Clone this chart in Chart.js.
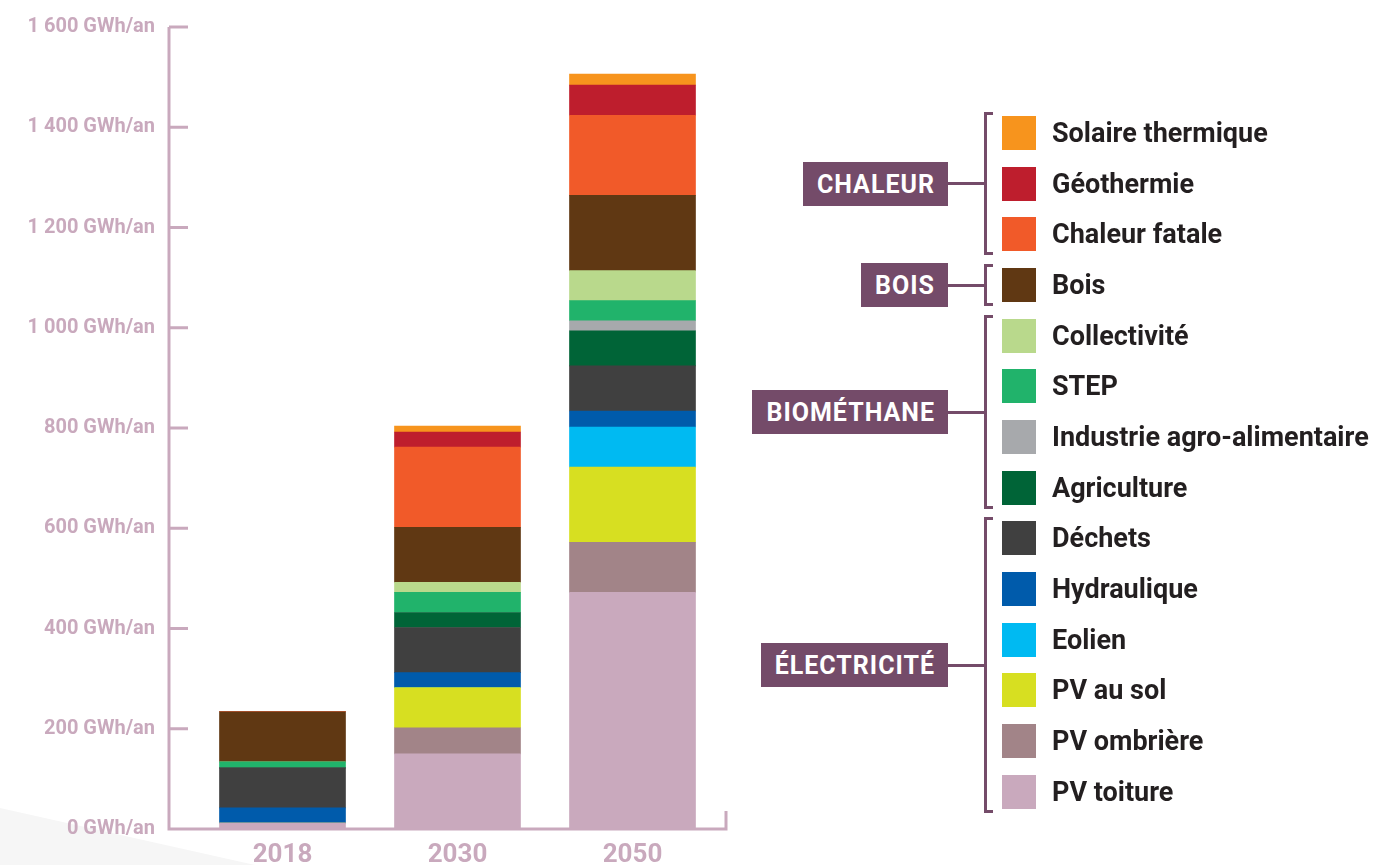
<!DOCTYPE html>
<html lang="fr">
<head>
<meta charset="utf-8">
<script src="https://cdn.jsdelivr.net/npm/chart.js@4.4.1/dist/chart.umd.min.js"></script>
<style>
  html,body{margin:0;padding:0;background:#fff;}
  #wrap{position:relative;width:1379px;height:865px;overflow:hidden;font-family:Roboto,"DejaVu Sans",sans-serif;}
  #shade{position:absolute;left:0;top:0;width:1379px;height:865px;background:#f6f6f6;clip-path:polygon(0 808px,255px 865px,0 865px);}
  #chart{position:absolute;left:0;top:0;}
  .grp{position:absolute;right:431px;height:44px;line-height:45px;padding:0 13px 0 14px;background:#744b69;color:#fff;font-weight:700;font-size:25px;letter-spacing:1px;}
  .link{position:absolute;left:948px;width:38px;height:3px;background:#744b69;}
  .brk{position:absolute;left:984px;width:9px;box-sizing:border-box;border:3px solid #744b69;border-right:none;}
  .sw{position:absolute;left:1002px;width:34px;height:34px;}
  .lab{position:absolute;left:1052px;height:34px;line-height:35px;font-weight:700;font-size:27px;color:#231f20;white-space:nowrap;}
</style>
</head>
<body>
<div id="wrap">
  <div id="shade"></div>
  <canvas id="chart" width="1379" height="865"></canvas>
  <div id="legend"></div>
</div>
<script>
// --- données (GWh/an) ---
const years = ["2018", "2030", "2050"];

const solaireThermique = [0, 12, 22];
const geothermie       = [0, 30, 60];
const chaleurFatale    = [0, 160, 160];
const bois             = [100, 110, 150];
const collectivite     = [0, 20, 60];
const step             = [12, 40, 40];
const industrieAgro    = [0, 0, 20];
const agriculture      = [0, 30, 70];
const dechets          = [80, 90, 90];
const hydraulique      = [30, 30, 32];
const eolien           = [0, 0, 80];
const pvSol            = [0, 80, 150];
const pvOmbriere       = [0, 52, 100];
const pvToiture        = [12, 150, 472];

const yTicks = [0, 200, 400, 600, 800, 1000, 1200, 1400, 1600];

// ordre de la légende (haut -> bas)
const seriesNames = [
  "Solaire thermique", "Géothermie", "Chaleur fatale", "Bois",
  "Collectivité", "STEP", "Industrie agro-alimentaire", "Agriculture",
  "Déchets", "Hydraulique", "Eolien", "PV au sol", "PV ombrière", "PV toiture"
];
const seriesValues = [
  solaireThermique, geothermie, chaleurFatale, bois,
  collectivite, step, industrieAgro, agriculture,
  dechets, hydraulique, eolien, pvSol, pvOmbriere, pvToiture
];
const groups = [
  { name: "CHALEUR", from: 0, to: 2 },
  { name: "BOIS", from: 3, to: 3 },
  { name: "BIOMÉTHANE", from: 4, to: 7 },
  { name: "ÉLECTRICITÉ", from: 8, to: 13 }
];

const COLORS = [
  "#f7941d", "#be1e2d", "#f15a29", "#603813",
  "#b9d98c", "#21b36b", "#a7a9ac", "#006437",
  "#404040", "#005bab", "#00baf2", "#d7df21", "#a28488", "#c9a9bd"
];
const PINK = "#c9a9bd";
const FONT = "Roboto, 'DejaVu Sans', sans-serif";

const el = (id) => document.getElementById(id);

function fmt(v){
  return String(v).replace(/\B(?=(\d{3})+(?!\d))/g, " ");
}

// les lignes d'axe façon "crochet"
const axisLines = {
  id: "axisLines",
  afterDatasetsDraw(chart){
    const { ctx, chartArea, scales } = chart;
    const y = scales.y;
    const ax = chartArea.left - 26;
    const base = y.getPixelForValue(0);
    ctx.save();
    ctx.strokeStyle = PINK;
    ctx.lineWidth = 3;
    ctx.beginPath();
    ctx.moveTo(ax, y.getPixelForValue(yTicks[yTicks.length - 1]));
    ctx.lineTo(ax, base);
    ctx.lineTo(chartArea.right + 6, base);
    ctx.lineTo(chartArea.right + 6, base - 18);
    for(const t of yTicks){
      if(t === 0) continue;
      const py = y.getPixelForValue(t);
      ctx.moveTo(ax, py);
      ctx.lineTo(ax + 19, py);
    }
    ctx.stroke();
    ctx.restore();
  }
};

function loadChart(){
  // empilement : bas du graphique = dernier de la légende
  const datasets = seriesNames.map((name, i) => ({
    label: name,
    data: seriesValues[i],
    backgroundColor: COLORS[i],
    borderWidth: 0
  })).reverse();

  new Chart(el("chart"), {
    type: "bar",
    data: { labels: years, datasets },
    options: {
      responsive: false,
      animation: false,
      layout: { padding: { left: 0, right: 659, top: 27, bottom: 0 } },
      datasets: { bar: { barThickness: 126 } },
      plugins: { legend: { display: false }, tooltip: { enabled: false } },
      scales: {
        x: {
          stacked: true,
          grid: { display: false, drawTicks: false },
          border: { display: false },
          ticks: { color: PINK, padding: 11, font: { family: FONT, size: 26, weight: "bold" } },
          afterFit: (s) => { s.height = 36; s.paddingLeft = 0; s.paddingRight = 0; }
        },
        y: {
          stacked: true,
          min: 0,
          max: 1600,
          grid: { display: false, drawTicks: false },
          border: { display: false },
          afterBuildTicks: (s) => { s.ticks = yTicks.map(v => ({ value: v })); },
          ticks: {
            color: PINK,
            padding: 40,
            font: { family: FONT, size: 20, weight: "bold" },
            callback: (v) => fmt(v) + " GWh/an"
          },
          afterFit: (s) => { s.width = 195; s.paddingTop = 0; s.paddingBottom = 0; }
        }
      }
    },
    plugins: [axisLines]
  });
}

function renderLegend(){
  const top0 = 116, gap = 50.67, sz = 34;
  const rowTop = (i) => Math.round(top0 + i * gap);
  let html = "";
  seriesNames.forEach((name, i) => {
    html += `<div class="sw" style="top:${rowTop(i)}px;background:${COLORS[i]}"></div>`;
    html += `<div class="lab" style="top:${rowTop(i)}px">${name}</div>`;
  });
  for(const g of groups){
    const t = rowTop(g.from) - 4;
    const b = rowTop(g.to) + sz + 4;
    const mid = (rowTop(g.from) + rowTop(g.to) + sz) / 2;
    html += `<div class="brk" style="top:${t}px;height:${b - t}px"></div>`;
    html += `<div class="link" style="top:${Math.round(mid - 1.5)}px"></div>`;
    html += `<div class="grp" style="top:${Math.round(mid - 22)}px">${g.name}</div>`;
  }
  el("legend").innerHTML = html;
}

loadChart();
renderLegend();
</script>
</body>
</html>
